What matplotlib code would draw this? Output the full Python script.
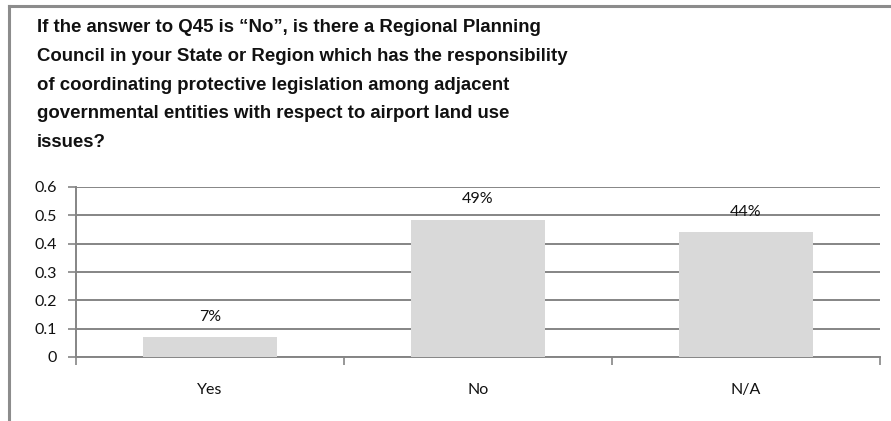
import numpy as np
import matplotlib
matplotlib.use("Agg")
import matplotlib.pyplot as plt

categories = ["Yes", "No", "N/A"]
values = [0.07, 0.485, 0.44]
labels = ["7%", "49%", "44%"]
yticks = [0, 0.1, 0.2, 0.3, 0.4, 0.5, 0.6]
ytick_labels = ["0", "0.1", "0.2", "0.3", "0.4", "0.5", "0.6"]
title_lines = [
    "If the answer to Q45 is \u201cNo\u201d, is there a Regional Planning",
    "Council in your State or Region which has the responsibility",
    "of coordinating protective legislation among adjacent",
    "governmental entities with respect to airport land use",
    "issues?",
]

W, H = 891, 421
fig = plt.figure(figsize=(W / 100, H / 100), dpi=100)
fig.patch.set_facecolor("white")

# outer chart frame (top and left edges visible)
fig.add_artist(plt.Line2D([8.5 / W, 1.0], [1 - 6 / H, 1 - 6 / H], color="#8c8c8c", lw=2.2))
fig.add_artist(plt.Line2D([8.5 / W, 8.5 / W], [0, 1 - 6 / H], color="#8c8c8c", lw=2.2))

# title, one line at a time
for i, line in enumerate(title_lines):
    fig.text(37 / W, 1 - (28 + i * 28.6) / H, line, fontsize=13.4, fontweight="bold",
             family="Liberation Sans", va="center", ha="left", color="#111111")

ax = fig.add_axes([76 / W, 1 - 357 / H, (880 - 76) / W, (357 - 187) / H])
x = np.arange(len(categories))
ax.bar(x, values, width=0.5, color="#d9d9d9", zorder=3)
ax.set_xlim(-0.5, 2.5)
ax.set_ylim(0, 0.6)

ax.set_yticks(yticks)
ax.set_yticklabels(ytick_labels, family="Lato", fontsize=11.5, color="#111111")
ax.yaxis.grid(True, color="#858585", lw=1.4, zorder=1)
ax.tick_params(axis="y", length=6, width=1.2, color="#858585", pad=8)

ax.set_xticks([-0.5, 0.5, 1.5, 2.5])
ax.set_xticklabels([])
ax.set_xticks(x, minor=True)
ax.set_xticklabels(categories, minor=True, family="Lato", fontsize=11.5, color="#111111")
ax.tick_params(axis="x", which="major", length=6, width=1.2, color="#858585")
ax.tick_params(axis="x", which="minor", length=0, pad=19)

for s in ["top", "right"]:
    ax.spines[s].set_visible(False)
for s in ["left", "bottom"]:
    ax.spines[s].set_color("#858585")
    ax.spines[s].set_linewidth(1.4)

for xi, v, lab in zip(x, values, labels):
    ax.annotate(lab, (xi, v), xytext=(0, 14.5), textcoords="offset points",
                ha="center", va="center", family="Lato", fontsize=11.5, color="#111111", zorder=5)

fig.savefig("out.png", dpi=100)
